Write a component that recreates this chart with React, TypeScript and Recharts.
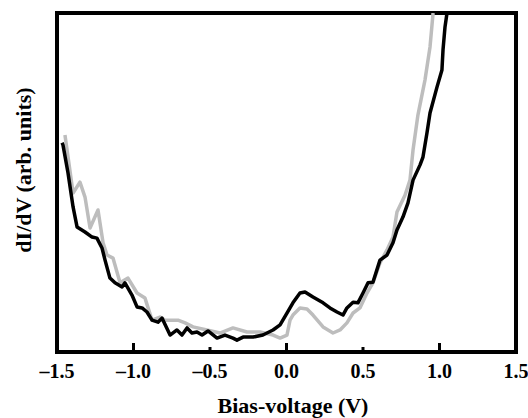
import React from 'react';
import { LineChart, Line, XAxis, YAxis } from 'recharts';

// bias voltages (V) and dI/dV values (arb. units, 0-100 = frame height)
const grayVolt = [
  -1.448, -1.395, -1.35, -1.317, -1.284, -1.232, -1.199, -1.173, -1.134, -1.088, -1.036, -0.977,
  -0.925, -0.879, -0.827, -0.794, -0.709, -0.663, -0.611, -0.52, -0.435, -0.35, -0.258, -0.173,
  -0.088, -0.042, 0.003, 0.023, 0.042, 0.088, 0.134, 0.173, 0.239, 0.304, 0.35, 0.395, 0.435,
  0.48, 0.526, 0.565, 0.611, 0.657, 0.696, 0.722, 0.775, 0.807, 0.827, 0.859, 0.905, 0.938, 0.958,
];
const grayVal = [
  64.0, 46.9, 50.1, 45.7, 36.6, 41.9, 32.2, 28.6, 27.7, 20.4, 21.8, 17.4,
  15.9, 9.4, 10.3, 9.4, 9.4, 8.6, 7.4, 6.5, 5.6, 7.1, 5.9, 5.9,
  5.0, 4.1, 5.0, 9.4, 10.9, 13.0, 12.7, 10.9, 7.4, 5.6, 6.5, 8.6, 11.5,
  13.0, 17.4, 20.4, 26.3, 30.1, 33.9, 41.3, 46.3, 50.7, 59.6, 69.9, 80.2, 90.0, 100,
];

const blackVolt = [
  -1.467, -1.461, -1.428, -1.395, -1.369, -1.317, -1.271, -1.239, -1.206, -1.186, -1.154, -1.121,
  -1.075, -1.056, -1.01, -0.977, -0.944, -0.912, -0.879, -0.84, -0.814, -0.761, -0.716, -0.683,
  -0.65, -0.618, -0.585, -0.552, -0.513, -0.454, -0.402, -0.35, -0.324, -0.284, -0.219, -0.154,
  -0.088, -0.042, 0.003, 0.042, 0.088, 0.121, 0.173, 0.239, 0.284, 0.33, 0.369, 0.395, 0.435,
  0.467, 0.5, 0.533, 0.565, 0.611, 0.657, 0.696, 0.722, 0.761, 0.794, 0.827, 0.873, 0.892,
  0.918, 0.938, 0.984, 1.016, 1.023, 1.036, 1.049,
];
const blackVal = [
  61.7, 61.1, 52.8, 42.8, 36.9, 35.4, 33.9, 33.6, 30.7, 27.1, 21.8, 20.4,
  19.2, 20.4, 16.8, 13.3, 13.0, 11.8, 9.4, 8.8, 10.0, 5.0, 6.5, 5.0,
  7.1, 5.6, 5.9, 5.0, 6.2, 4.1, 5.0, 4.1, 3.5, 4.4, 4.4, 5.0,
  6.5, 8.0, 11.5, 14.5, 17.4, 17.7, 16.2, 14.5, 13.0, 11.8, 10.9, 13.0, 14.7,
  14.5, 17.4, 20.4, 20.6, 27.1, 28.6, 32.2, 36.0, 39.8, 44.0, 50.7, 55.2, 57.5,
  64.6, 70.5, 78.2, 83.2, 89.1, 95.9, 100,
];

const xTicks = [-1.5, -1.0, -0.5, 0.0, 0.5, 1.0, 1.5];

const grayData = grayVolt.map((v, i) => ({ v, y: grayVal[i] }));
const blackData = blackVolt.map((v, i) => ({ v, y: blackVal[i] }));

const FONT = "'Liberation Serif', 'Times New Roman', serif";

const fmt = (v: number) => (v < 0 ? '\u2013' + Math.abs(v).toFixed(1) : v.toFixed(1));

const BottomTick = (props: any) => {
  const { x, y, payload } = props;
  const v = payload.value as number;
  const major = Math.abs(v - Math.round(v)) < 1e-6;
  const edge = Math.abs(Math.abs(v) - 1.5) < 1e-6;
  return (
    <g>
      {!edge && (
        <line x1={x} x2={x} y1={y} y2={y - (major ? 9 : 5)} stroke="#000" strokeWidth={3} />
      )}
      <text x={x} y={y + 26} textAnchor="middle" fontFamily={FONT} fontWeight="bold" fontSize={20} fill="#000">
        {fmt(v)}
      </text>
    </g>
  );
};

export default function App() {
  return (
    <div style={{ width: 528, height: 418, background: '#fff' }}>
      <style>{`body{margin:0;}`}</style>
      <LineChart width={528} height={418} margin={{ top: 13, right: 12, left: 11, bottom: 0 }}>
        <XAxis
          dataKey="v"
          type="number"
          domain={[-1.5, 1.5]}
          ticks={xTicks}
          allowDataOverflow
          height={66}
          tickSize={0}
          tickMargin={0}
          tickLine={false}
          axisLine={false}
          tick={<BottomTick />}
          interval={0}
        />
        <YAxis
          type="number"
          domain={[0, 100]}
          allowDataOverflow
          width={46}
          tick={false}
          tickLine={false}
          axisLine={false}
        />
        <Line
          data={grayData}
          dataKey="y"
          type="linear"
          stroke="#bdbdbd"
          strokeWidth={3.5}
          strokeLinejoin="round"
          dot={false}
          isAnimationActive={false}
        />
        <Line
          data={blackData}
          dataKey="y"
          type="linear"
          stroke="#000"
          strokeWidth={3.5}
          strokeLinejoin="round"
          dot={false}
          isAnimationActive={false}
        />
        {/* plot frame */}
        <rect x={57} y={13} width={459} height={339} fill="none" stroke="#000" strokeWidth={4} />
        <text x={293} y={413} textAnchor="middle" fontFamily={FONT} fontWeight="bold" fontSize={22} fill="#000">
          Bias-voltage (V)
        </text>
        <text
          x={31}
          y={170}
          transform="rotate(-90 31 170)"
          textAnchor="middle"
          fontFamily={FONT}
          fontWeight="bold"
          fontSize={22}
          fill="#000"
        >
          dI/dV (arb. units)
        </text>
      </LineChart>
    </div>
  );
}
